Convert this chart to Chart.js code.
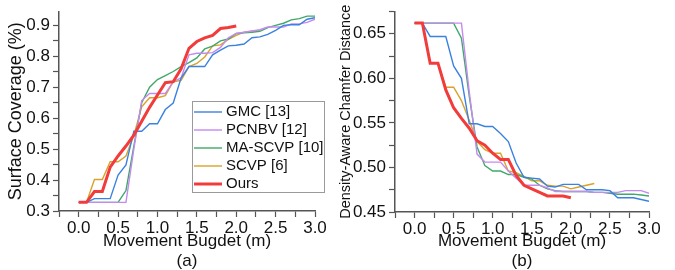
<!DOCTYPE html>
<html>
<head>
<meta charset="utf-8">
<script src="https://cdn.jsdelivr.net/npm/chart.js@4.4.1/dist/chart.umd.min.js"></script>
<style>
  html, body { margin: 0; padding: 0; background: #fff; }
  #wrap { position: relative; width: 675px; height: 270px; overflow: hidden; }
  canvas { position: absolute; top: 0; }
</style>
</head>
<body>
<div id="wrap">
  <canvas id="cov" width="330" height="270" style="left:0px"></canvas>
  <canvas id="cd" width="345" height="270" style="left:330px"></canvas>
</div>
<script>
// movement budget (m), one reading every 0.1 m
const budget = [0.0, 0.1, 0.2, 0.3, 0.4, 0.5, 0.6, 0.7, 0.8, 0.9, 1.0,
                1.1, 1.2, 1.3, 1.4, 1.5, 1.6, 1.7, 1.8, 1.9, 2.0,
                2.1, 2.2, 2.3, 2.4, 2.5, 2.6, 2.7, 2.8, 2.9, 3.0];

const methods = ['GMC [13]', 'PCNBV [12]', 'MA-SCVP [10]', 'SCVP [6]', 'Ours'];
const colors = ['#3b82e0', '#c58af0', '#3fa86b', '#d9a22a', '#f23b3b'];

// (a) surface coverage
const gmcCov = [0.328, 0.328, 0.340, 0.340, 0.340, 0.416, 0.449, 0.558, 0.558, 0.582, 0.582,
                0.628, 0.649, 0.730, 0.767, 0.767, 0.767, 0.805, 0.820, 0.834, 0.836,
                0.840, 0.860, 0.863, 0.871, 0.884, 0.900, 0.902, 0.902, 0.920, 0.925];
const pcnbvCov = [0.328, 0.328, 0.328, 0.328, 0.328, 0.328, 0.328, 0.500, 0.657, 0.680, 0.680,
                  0.680, 0.718, 0.730, 0.805, 0.810, 0.810, 0.812, 0.829, 0.860, 0.874,
                  0.878, 0.882, 0.886, 0.895, 0.895, 0.895, 0.905, 0.905, 0.910, 0.920];
const mascvpCov = [0.328, 0.328, 0.328, 0.328, 0.328, 0.328, 0.366, 0.510, 0.650, 0.700, 0.725,
                   0.738, 0.751, 0.767, 0.780, 0.795, 0.824, 0.833, 0.850, 0.856, 0.874,
                   0.876, 0.878, 0.881, 0.893, 0.900, 0.907, 0.918, 0.922, 0.930, 0.930];
const scvpCov = [0.328, 0.328, 0.402, 0.402, 0.459, 0.459, 0.478, 0.544, 0.637, 0.666, 0.666,
                 0.673, 0.718, 0.722, 0.767, 0.777, 0.798, 0.834, 0.837, 0.855, 0.868,
                 0.878, 0.881, 0.884];
const oursCov = [0.328, 0.328, 0.363, 0.363, 0.442, 0.478, 0.510, 0.545, 0.590, 0.635, 0.675,
                 0.715, 0.718, 0.760, 0.826, 0.848, 0.860, 0.868, 0.890, 0.893, 0.898];

// (b) density-aware chamfer distance
const gmcCd = [0.662, 0.662, 0.647, 0.647, 0.647, 0.614, 0.600, 0.549, 0.549, 0.546, 0.546,
               0.538, 0.529, 0.505, 0.489, 0.488, 0.487, 0.479, 0.478, 0.481, 0.481,
               0.481, 0.475, 0.475, 0.475, 0.474, 0.466, 0.466, 0.466, 0.464, 0.462];
const pcnbvCd = [0.662, 0.662, 0.662, 0.662, 0.662, 0.662, 0.662, 0.585, 0.515, 0.506, 0.506,
                 0.506, 0.496, 0.488, 0.480, 0.480, 0.480, 0.477, 0.473, 0.473, 0.473,
                 0.473, 0.473, 0.472, 0.472, 0.472, 0.472, 0.474, 0.474, 0.474, 0.471];
const mascvpCd = [0.662, 0.662, 0.662, 0.662, 0.662, 0.662, 0.645, 0.580, 0.523, 0.502, 0.496,
                  0.496, 0.492, 0.492, 0.489, 0.487, 0.480, 0.476, 0.474, 0.473, 0.473,
                  0.473, 0.473, 0.472, 0.472, 0.471, 0.470, 0.470, 0.470, 0.469, 0.468];
const scvpCd = [0.662, 0.662, 0.617, 0.617, 0.590, 0.590, 0.575, 0.553, 0.529, 0.520, 0.516,
                0.516, 0.496, 0.494, 0.490, 0.485, 0.485, 0.480, 0.479, 0.479, 0.476,
                0.478, 0.480, 0.482];
const oursCd = [0.662, 0.662, 0.617, 0.617, 0.587, 0.567, 0.555, 0.544, 0.530, 0.525, 0.516,
                0.509, 0.509, 0.491, 0.480, 0.476, 0.472, 0.468, 0.468, 0.468, 0.466];

Chart.defaults.font.family = "'Liberation Sans', Arial, sans-serif";
Chart.defaults.color = '#111';

function pts(vals) {
  return vals.map((v, i) => ({ x: budget[i], y: v }));
}

function makeSets(series) {
  return series.map((vals, i) => ({
    label: methods[i],
    data: pts(vals),
    borderColor: colors[i],
    backgroundColor: colors[i],
    borderWidth: i === 4 ? 3 : 1.4,
    pointRadius: 0,
    tension: 0,
    order: i === 4 ? 0 : 1
  }));
}

// legend box drawn inside panel (a)
const legendBox = {
  id: 'legendBox',
  afterDraw(chart) {
    const ctx = chart.ctx;
    ctx.save();
    ctx.fillStyle = '#fff';
    ctx.fillRect(192, 101, 133, 92);
    ctx.strokeStyle = '#9a9a9a';
    ctx.lineWidth = 1;
    ctx.strokeRect(192.5, 101.5, 132, 91);
    ctx.font = "15px 'Liberation Sans', Arial, sans-serif";
    ctx.textBaseline = 'middle';
    chart.data.datasets.forEach((ds, i) => {
      const y = 112 + i * 18;
      ctx.strokeStyle = ds.borderColor;
      ctx.lineWidth = ds.borderWidth;
      ctx.beginPath();
      ctx.moveTo(194, y);
      ctx.lineTo(222, y);
      ctx.stroke();
      ctx.fillStyle = '#111';
      ctx.fillText(ds.label, 226, y);
    });
    ctx.restore();
  }
};

function makeChart(id, series, o) {
  const ctx = document.getElementById(id);
  return new Chart(ctx, {
    type: 'line',
    data: { datasets: makeSets(series) },
    options: {
      responsive: false,
      animation: false,
      layout: { padding: { top: o.top, right: o.right, bottom: 0, left: 0 } },
      plugins: { legend: { display: false }, tooltip: { enabled: false } },
      scales: {
        x: {
          type: 'linear',
          min: -0.25,
          max: 3.0,
          afterFit: s => { s.height = o.xh; },
          border: { color: '#555', width: 1.5 },
          grid: { drawOnChartArea: false, tickLength: 6, color: '#555', tickWidth: 1.2 },
          ticks: {
            stepSize: 0.25,
            autoSkip: false,
            maxRotation: 0,
            padding: 3,
            font: { size: 17, lineHeight: 1 },
            callback: v => (v > -0.01 && Math.abs(v * 2 - Math.round(v * 2)) < 1e-6) ? v.toFixed(1) : ''
          },
          title: { display: true, text: ['Movement Bugdet (m)', o.tag], font: { size: 17, lineHeight: 1.22 }, padding: { top: 0, bottom: -2 } }
        },
        y: {
          min: o.ymin,
          max: o.ymax,
          afterFit: s => { s.width = o.yw; },
          border: { color: '#555', width: 1.5 },
          grid: { drawOnChartArea: false, tickLength: 6, color: '#555', tickWidth: 1.2 },
          ticks: {
            stepSize: o.ystep,
            includeBounds: false,
            autoSkip: false,
            padding: 3,
            font: { size: 17, lineHeight: 1 },
            callback: v => (Math.abs(v / o.ylab - Math.round(v / o.ylab)) < 1e-6) ? v.toFixed(o.dec) : ''
          },
          title: { display: true, text: o.ytitle, font: { size: o.ytsize, lineHeight: 1.2 }, padding: { top: o.ytpad, bottom: 0 } }
        }
      }
    },
    plugins: o.legend ? [legendBox] : []
  });
}

makeChart('cov', [gmcCov, pcnbvCov, mascvpCov, scvpCov, oursCov], {
  top: 5, right: 15, xh: 59, yw: 59,
  ymin: 0.3, ymax: 0.945, ystep: 0.05, ylab: 0.1, dec: 1,
  ytitle: 'Surface Coverage (%)', ytsize: 18, ytpad: 5,
  tag: '(a)', legend: true
});

makeChart('cd', [gmcCd, pcnbvCd, mascvpCd, scvpCd, oursCd], {
  top: 7, right: 26, xh: 58, yw: 65,
  ymin: 0.45, ymax: 0.675, ystep: 0.025, ylab: 0.05, dec: 2,
  ytitle: 'Density-Aware Chamfer Distance', ytsize: 14.5, ytpad: 7,
  tag: '(b)', legend: false
});
</script>
</body>
</html>
